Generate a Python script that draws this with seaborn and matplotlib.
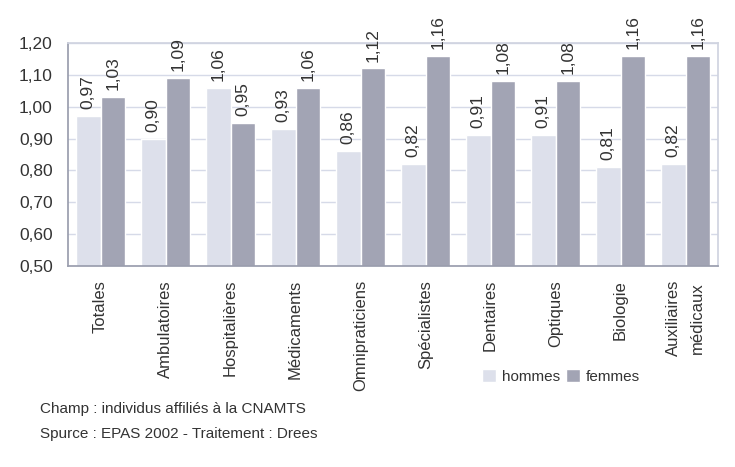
import matplotlib
matplotlib.use("Agg")
import matplotlib.pyplot as plt
import seaborn as sns
import pandas as pd
from matplotlib import font_manager

categories = ["Totales", "Ambulatoires", "Hospitalières", "Médicaments", "Omnipraticiens",
              "Spécialistes", "Dentaires", "Optiques", "Biologie", "Auxiliaires\nmédicaux"]
hommes = [0.97, 0.90, 1.06, 0.93, 0.86, 0.82, 0.91, 0.91, 0.81, 0.82]
femmes = [1.03, 1.09, 0.95, 1.06, 1.12, 1.16, 1.08, 1.08, 1.16, 1.16]
series = ["hommes", "femmes"]
yticks = [0.50, 0.60, 0.70, 0.80, 0.90, 1.00, 1.10, 1.20]

sns.set_theme(style="white")
names = {f.name for f in font_manager.fontManager.ttflist}
fam = ["Liberation Sans Narrow"] if "Liberation Sans Narrow" in names else []
plt.rcParams["font.family"] = fam + ["Liberation Sans", "DejaVu Sans"]

df = pd.DataFrame({
    "cat": categories * 2,
    "val": hommes + femmes,
    "sexe": [series[0]] * len(categories) + [series[1]] * len(categories),
})

fig = plt.figure(figsize=(7.35, 4.67), dpi=100)
ax = fig.add_axes([68 / 735, 1 - 266 / 467, 650 / 735, 223 / 467])
sns.barplot(data=df, x="cat", y="val", hue="sexe", palette=["#dde0eb", "#a2a4b4"],
            width=0.75, ax=ax, saturation=1, legend=True)

ax.set_ylim(0.5, 1.2)
ax.set_xlim(-0.5, 9.5)
ax.set_yticks(yticks)
ax.set_yticklabels([f"{v:.2f}".replace(".", ",") for v in yticks], fontsize=12.5, color="#333333")
ax.set_xticks(range(len(categories)))
ax.set_xticklabels(categories, rotation=90, fontsize=12, color="#333333", linespacing=1.75)
ax.tick_params(axis="y", length=0, pad=11)
ax.tick_params(axis="x", length=0, pad=10)
ax.set_xlabel("")
ax.set_ylabel("")
ax.yaxis.grid(True, color="#d6dae8", linewidth=1)
ax.set_axisbelow(True)
for s in ax.spines.values():
    s.set_color("#d0d4e0")
ax.spines["left"].set_color("#9a9eae")
ax.spines["bottom"].set_color("#9a9eae")

for cont in ax.containers:
    for bar in cont:
        h = bar.get_height()
        ax.annotate(f"{h:.2f}".replace(".", ","), (bar.get_x() + bar.get_width() / 2, h),
                    xytext=(0, 5), textcoords="offset points", rotation=90,
                    ha="center", va="bottom", fontsize=12.5, color="#333333")

leg = ax.legend(loc="upper left", bbox_to_anchor=(482 / 735, 1 - 369 / 467),
                bbox_transform=fig.transFigure, ncol=2, frameon=False, fontsize=11,
                handlelength=0.9, handleheight=0.9, handletextpad=0.4, columnspacing=0.4,
                borderaxespad=0, borderpad=0)
for t in leg.get_texts():
    t.set_color("#333333")

fig.text(40 / 735, 1 - 409 / 467, "Champ : individus affiliés à la CNAMTS", fontsize=11,
         color="#333333", va="center")
fig.text(40 / 735, 1 - 434 / 467, "Spurce : EPAS 2002 - Traitement : Drees", fontsize=11,
         color="#333333", va="center")

fig.savefig("out.png", dpi=100)
